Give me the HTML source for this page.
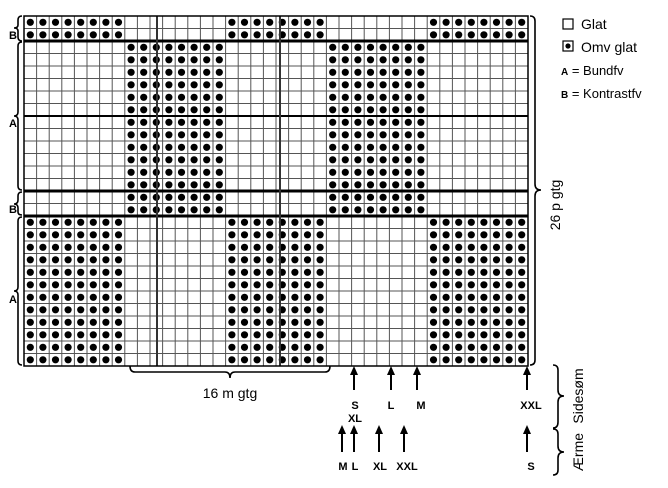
<!DOCTYPE html>
<html><head><meta charset="utf-8"><style>
html,body{margin:0;padding:0;background:#fff;}
svg{display:block;font-family:"Liberation Sans",sans-serif;}
</style></head><body>
<svg id="s" width="668" height="488" viewBox="0 0 668 488" xmlns="http://www.w3.org/2000/svg">
<g id="grid"></g>
<!-- left braces -->
<g fill="none" stroke="#000" stroke-width="1.6">
<path d="M22,16 Q18,16 18,20 L18,25 Q18,28 14,28 Q18,28 18,31 L18,37 Q18,41 22,41"/>
<path d="M22,42 Q18,42 18,46 L18,112 Q18,116 14,116 Q18,116 18,120 L18,186 Q18,190 22,190"/>
<path d="M22,192 Q18,192 18,196 L18,200 Q18,204 14,204 Q18,204 18,208 L18,212 Q18,215 22,215"/>
<path d="M22,217 Q18,217 18,221 L18,287 Q18,291 14,291 Q18,291 18,295 L18,361 Q18,365 22,365"/>
<path d="M530,16 Q535,16 535,21 L535,184 Q535,190 541,190 Q535,190 535,196 L535,360 Q535,365 530,365"/>
<path d="M130,366 Q130,372 135,372 L225,372 Q230,372 230,378 Q230,372 235,372 L325,372 Q330,372 330,366"/>
<path d="M553,365 Q558,365 558,370 L558,390 Q558,396 564,396 Q558,396 558,402 L558,422 Q558,428 553,428"/>
<path d="M553,429 Q558,429 558,434 L558,446 Q558,452 564,452 Q558,452 558,458 L558,470 Q558,475 553,475"/>
</g>
<g font-weight="bold" font-size="11">
<text x="9" y="39">B</text>
<text x="9" y="127">A</text>
<text x="9" y="213">B</text>
<text x="9" y="303">A</text>
</g>
<text x="0" y="0" font-size="14" transform="translate(560,205) rotate(-90)" text-anchor="middle">26 p gtg</text>
<text x="230" y="398" font-size="14" text-anchor="middle">16 m gtg</text>
<text font-size="14" transform="translate(583,396) rotate(-90)" text-anchor="middle">Sidesøm</text>
<text font-size="14" transform="translate(583,452) rotate(-90)" text-anchor="middle">Ærme</text>
<g id="arrows"></g>
<g font-weight="bold" font-size="11" text-anchor="middle">
<text x="355" y="409">S</text><text x="355" y="422">XL</text>
<text x="391" y="409">L</text><text x="421" y="409">M</text>
<text x="531" y="409">XXL</text>
<text x="343" y="470">M</text><text x="355" y="470">L</text>
<text x="380" y="470">XL</text><text x="407" y="470">XXL</text>
<text x="531" y="470">S</text>
</g>
<!-- legend -->
<rect x="563" y="19" width="10" height="10" fill="#fff" stroke="#000" stroke-width="1.2"/>
<text x="581" y="29" font-size="14">Glat</text>
<rect x="563" y="41" width="10" height="10" fill="#fff" stroke="#000" stroke-width="1.2"/>
<circle cx="568" cy="46" r="2.6"/>
<text x="581" y="52" font-size="14">Omv glat</text>
<text x="561" y="75" font-size="13"><tspan font-weight="bold" font-size="10">A</tspan> = Bundfv</text>
<text x="561" y="98" font-size="13"><tspan font-weight="bold" font-size="10">B</tspan> = Kontrastfv</text>
</svg>
<script>
var ns="http://www.w3.org/2000/svg",g=document.getElementById("grid"),x0=24,y0=16,cw=12.6,ch=12.5,C=40,R=28,h="";
for(var r=0;r<R;r++){for(var c=0;c<C;c++){var b=Math.floor(c/8)%2;var dot=(r>=2&&r<16)?(b==1):(b==0);
if(dot)h+='<circle cx="'+(x0+c*cw+cw/2).toFixed(1)+'" cy="'+(y0+r*ch+ch/2).toFixed(1)+'" r="3.6"/>';}}
for(var c=0;c<=C;c++){var x=x0+c*cw;h+='<line x1="'+x+'" y1="'+y0+'" x2="'+x+'" y2="'+(y0+R*ch)+'" stroke="#555" stroke-width="1"/>';}
for(var r=0;r<=R;r++){var y=y0+r*ch;var w=(r==2||r==14||r==16)?3:(r==8?2:1);h+='<line x1="'+x0+'" y1="'+y+'" x2="'+(x0+C*cw)+'" y2="'+y+'" stroke="'+(w>1?"#000":"#555")+'" stroke-width="'+w+'"/>';}
h+='<line x1="157" y1="16" x2="157" y2="366" stroke="#333" stroke-width="2"/><line x1="280" y1="16" x2="280" y2="366" stroke="#333" stroke-width="2"/>';
h+='<rect x="'+x0+'" y="'+y0+'" width="'+C*cw+'" height="'+R*ch+'" fill="none" stroke="#000" stroke-width="1.5"/>';
g.innerHTML=h;
var a="";function ar(x,y1,y2){a+='<line x1="'+x+'" y1="'+y1+'" x2="'+x+'" y2="'+(y2+6)+'" stroke="#000" stroke-width="2"/><polygon points="'+(x-4)+','+(y2+9)+' '+(x+4)+','+(y2+9)+' '+x+','+y2+'"/>';}
[354,391,417,527].forEach(function(x){ar(x,390,366);});
[342,354,379,404,527].forEach(function(x){ar(x,452,425);});
document.getElementById("arrows").innerHTML=a;
</script>
</body></html>
